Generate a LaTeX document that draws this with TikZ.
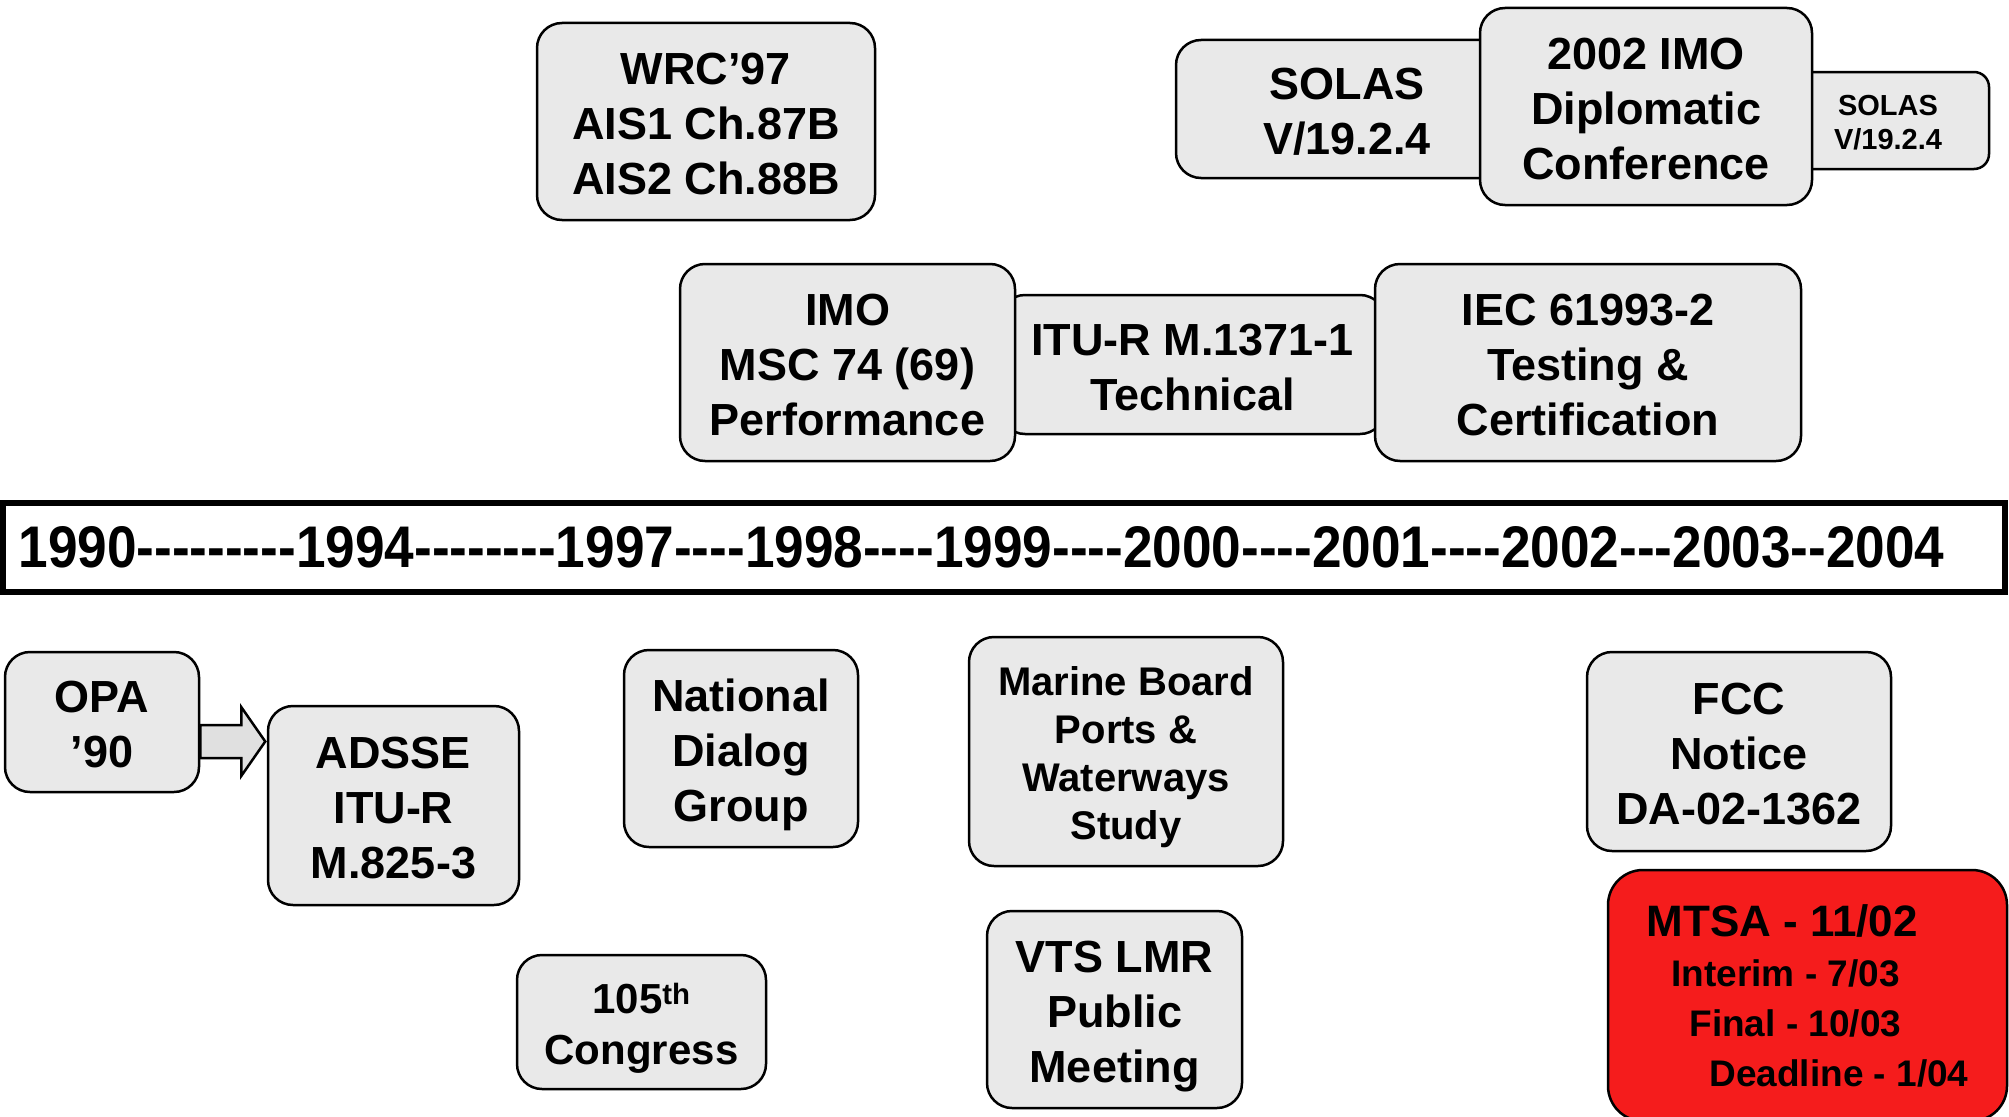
\documentclass[tikz,border=0pt]{standalone}
\usepackage{fontspec}
\setmainfont{Liberation Sans}[Ligatures=TeXOff]
\definecolor{boxgray}{RGB}{233,233,233}
\definecolor{arrowgray}{RGB}{224,224,224}
\definecolor{mtsared}{RGB}{245,28,28}
\newcommand\capstrut{\rule{0pt}{0.82em}}
\begin{document}
\begin{tikzpicture}[x=1pt,y=-1pt,
    base/.style={draw,fill=boxgray,line width=2.5pt,rounded corners=25pt,align=center,inner sep=0pt},
    box/.style={base,text depth=0pt,font=\bfseries\fontsize{45}{55}\selectfont},
    smallbox/.style={box,rounded corners=15pt,font=\bfseries\fontsize{29}{34}\selectfont},
    midbox/.style={box,font=\bfseries\fontsize{40}{48}\selectfont},
    redbox/.style={base,fill=mtsared,rounded corners=35pt,align=left,font=\bfseries\fontsize{37}{50}\selectfont}]
  \clip (0,0) rectangle (2009,1116);
  \node[box,minimum width=338pt,minimum height=197pt] (wrc) at (706,121.5) {\capstrut WRC’97\\AIS1 Ch.87B\\AIS2 Ch.88B};
  \node[box,minimum width=342pt,minimum height=138pt] (solasa) at (1347,109) {\capstrut SOLAS\\V/19.2.4};
  \node[smallbox,minimum width=202pt,minimum height=97pt] (solasb) at (1888,120.5) {\capstrut SOLAS\\V/19.2.4};
  \node[box,minimum width=332pt,minimum height=197pt] (imo) at (1646,106.5) {\capstrut 2002 IMO\\Diplomatic\\Conference};
  \node[box,minimum width=385pt,minimum height=139pt] (itu) at (1192.5,364.5) {\capstrut ITU-R M.1371-1\\Technical};
  \node[box,minimum width=335pt,minimum height=197pt] (msc) at (847.5,362.5) {\capstrut IMO\\MSC 74 (69)\\Performance};
  \node[box,minimum width=426pt,minimum height=197pt] (iec) at (1588,362.5) {\capstrut IEC 61993-2\\Testing \&\\Certification};
  \node[draw,line width=6pt,inner sep=0pt,minimum height=89pt,anchor=west] (years) at (0,547.5)
    {\hspace*{15.5pt}\resizebox{1926pt}{41pt}{\bfseries 1990---------1994--------1997----1998----1999----2000----2001----2002---2003--2004}\hspace*{60.5pt}};
  \node[box,minimum width=194pt,minimum height=140pt] (opa) at (102,722) {\capstrut OPA\\’90};
  \node[box,minimum width=251pt,minimum height=199pt] (adsse) at (393.5,805.5) {\capstrut ADSSE\\ITU-R\\M.825-3};
  \draw[fill=arrowgray,line width=2.5pt,line join=miter] ([yshift=-3pt]opa.east) -- ++(41,0) -- ++(0,-18)
    -- ++(24,34.5) -- ++(-24,34.5) -- ++(0,-18) -- ++(-41,0) -- cycle;
  \node[box,minimum width=234pt,minimum height=197pt] (ndg) at (741,748.5) {\capstrut National\\Dialog\\Group};
  \node[midbox,minimum width=314pt,minimum height=229pt] (board) at (1126,751.5) {\capstrut Marine Board\\Ports \&\\Waterways\\Study};
  \node[box,minimum width=304pt,minimum height=199pt] (fcc) at (1739,751.5) {\capstrut FCC\\Notice\\DA-02-1362};
  \node[box,minimum width=249pt,minimum height=134pt,font=\bfseries\fontsize{42}{51}\selectfont] (congress) at (641.5,1022)
    {\capstrut 105\textsuperscript{th}\\Congress};
  \node[box,minimum width=255pt,minimum height=197pt] (vts) at (1114.5,1009.5) {\capstrut VTS LMR\\Public\\Meeting};
  \node[redbox,minimum width=399pt,minimum height=251pt] (mtsa) at (1807.5,995.5)
    {{\fontsize{44}{50}\selectfont MTSA - 11/02}\\\hspace*{25pt}Interim - 7/03\\\hspace*{43pt}Final - 10/03\\\hspace*{63pt}Deadline - 1/04};
\end{tikzpicture}
\end{document}
